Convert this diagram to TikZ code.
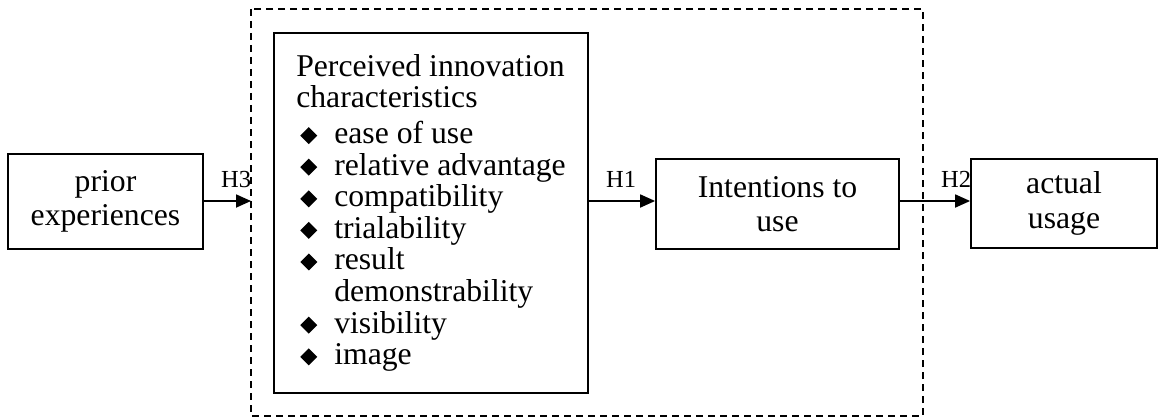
\documentclass[tikz,border=0pt]{standalone}
\usepackage{fontspec}
\setmainfont{Liberation Serif}
\usetikzlibrary{arrows.meta}
\newcommand\dia{\hspace*{4pt}\makebox[34pt][l]{\tikz[baseline=0pt]\fill (0pt,-0.5pt)--(8.5pt,8pt)--(0pt,16.5pt)--(-8.5pt,8pt)--cycle;}}
\begin{document}
\begin{tikzpicture}[x=1pt,y=-1pt,
  box/.style={draw,line width=1.8pt,inner sep=0pt,align=center,
    font=\fontsize{31.7}{34.5}\selectfont},
  arr/.style={line width=1.8pt,-{Triangle[length=15pt,width=13pt]}},
  hlab/.style={inner sep=0pt,anchor=base west,font=\fontsize{24.5}{24.5}\selectfont},
  frame/.style={line width=1.8pt,dash pattern=on 7pt off 5pt}]
\useasboundingbox (0,0) rectangle (1158,417);
\draw[frame] (251,9) rectangle (923,416);
\node[box,minimum width=195pt,minimum height=95pt] (prior) at (105.5,201.5) {prior\\experiences};
\node[box,minimum width=314pt,minimum height=360pt,align=left,
  font=\fontsize{31.7}{31.6}\selectfont] (pic) at (431,213)
  {Perceived innovation\\characteristics\\[4pt]
   \dia ease of use\\
   \dia relative advantage\\
   \dia compatibility\\
   \dia trialability\\
   \dia result\\
   \hspace*{38pt}demonstrability\\
   \dia visibility\\
   \dia image};
\node[box,minimum width=243pt,minimum height=90pt] (intent) at (777.5,204) {Intentions to\\use};
\node[box,minimum width=186pt,minimum height=89pt] (actual) at (1064,203.5) {actual\\usage};
\coordinate (ay) at (0,201);
\coordinate (dl) at (251,201);
\draw[arr] (prior.east |- ay) -- (dl);
\draw[arr] (pic.east |- ay) -- (intent.west |- ay);
\draw[arr] (intent.east |- ay) -- (actual.west |- ay);
\node[hlab] (h3) at (221,187) {H3};
\node[hlab] (h1) at (606,187) {H1};
\node[hlab] (h2) at (941,187) {H2};
\end{tikzpicture}
\end{document}
